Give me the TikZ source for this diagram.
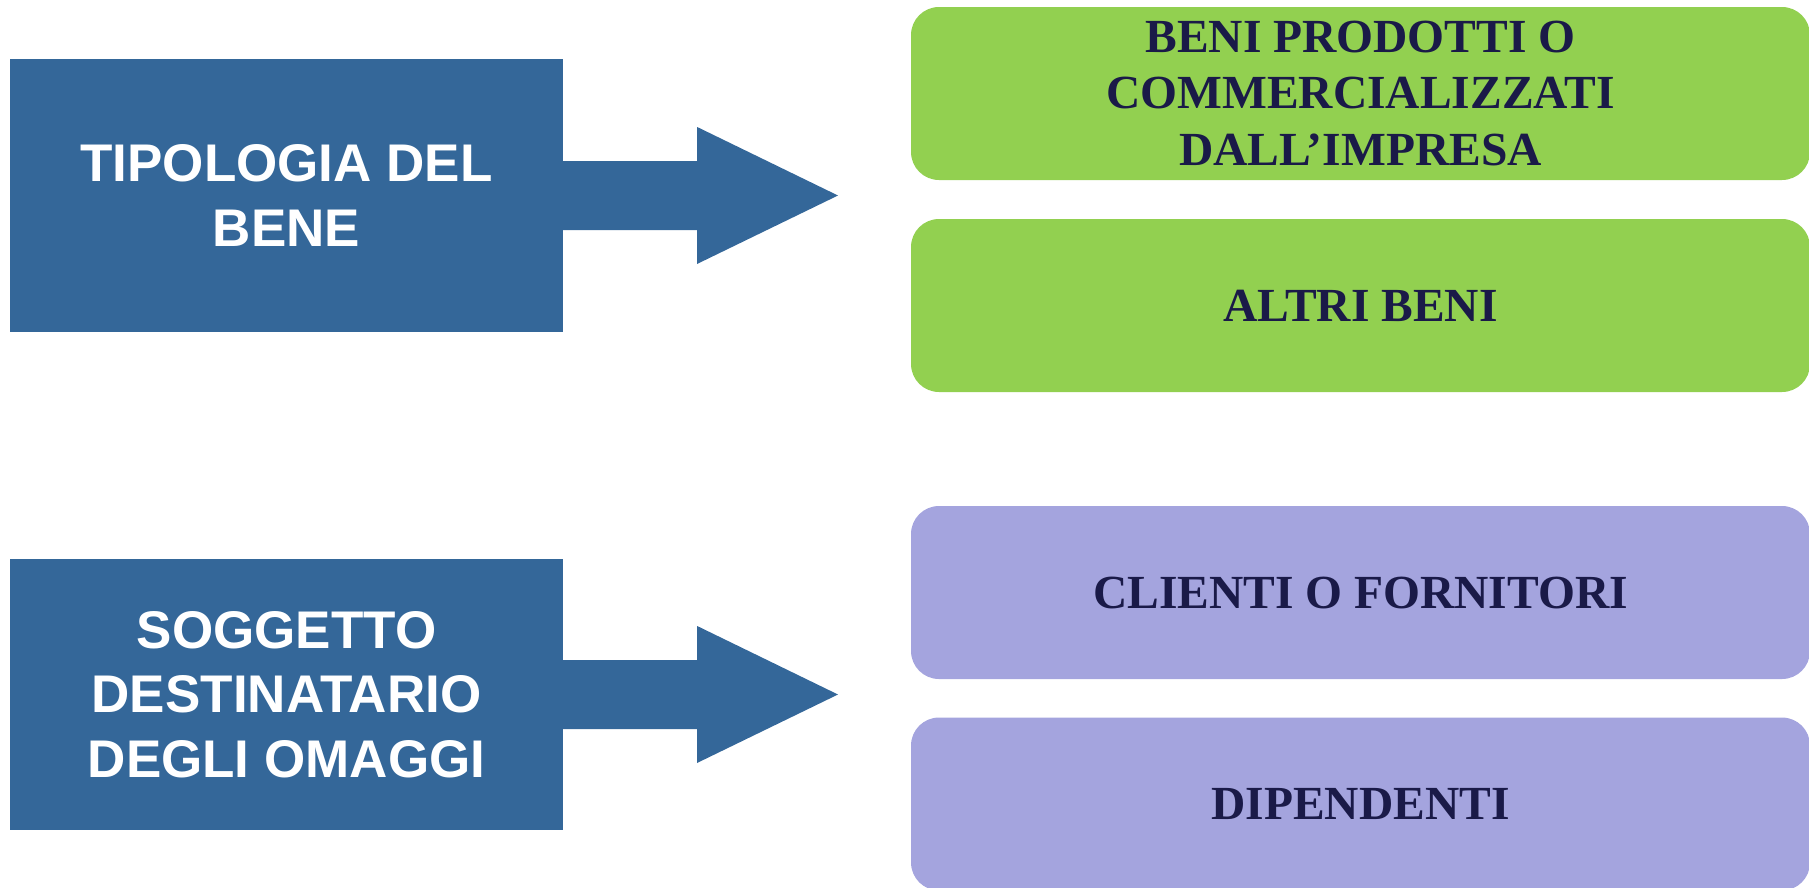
\documentclass[tikz,border=0pt]{standalone}
\usepackage{fontspec}
\setmainfont{Liberation Serif}
\newfontfamily\arialfont{Liberation Sans}
\definecolor{bluebox}{RGB}{52,103,153}
\definecolor{greenbox}{RGB}{146,208,80}
\definecolor{purplebox}{RGB}{164,164,222}
\definecolor{navytext}{RGB}{26,26,72}
\tikzset{
  leftbox/.style={fill=bluebox, draw=none, inner sep=0pt, minimum width=553pt, text=white, align=center,
    font=\arialfont\bfseries\fontsize{53}{64.5}\selectfont},
  rightbox/.style={draw=none, rounded corners=28pt, inner sep=0pt, minimum width=899pt, minimum height=173pt,
    text=navytext, align=center, font=\bfseries\fontsize{47.5}{56.5}\selectfont},
  arrowshape/.style={fill=bluebox, draw=none}
}
\begin{document}
\begin{tikzpicture}[x=1pt,y=-1pt]
\useasboundingbox (0,0) rectangle (1809,887);
% left boxes
\node[leftbox, minimum height=273pt] (b1) at (286.5,195.5) {TIPOLOGIA DEL\\BENE};
\node[leftbox, minimum height=271pt] (b2) at (286.5,694.5) {SOGGETTO\\DESTINATARIO\\DEGLI OMAGGI};
% arrow tips
\coordinate (t1) at (838,195.5);
\coordinate (t2) at (838,694.5);
\fill[arrowshape] ([yshift=34.5pt]b1.east) -- ++(134,0) -- ++(0,-34) -- (t1) -- ++(-141,68.5) -- ++(0,-34) -- ([yshift=-34.5pt]b1.east) -- cycle;
\fill[arrowshape] ([yshift=34.5pt]b2.east) -- ++(134,0) -- ++(0,-34) -- (t2) -- ++(-141,68.5) -- ++(0,-34) -- ([yshift=-34.5pt]b2.east) -- cycle;
% right boxes
\node[rightbox, fill=greenbox] (g1) at (1360.5,93.5) {BENI PRODOTTI O\\COMMERCIALIZZATI\\DALL’IMPRESA};
\node[rightbox, fill=greenbox] (g2) at (1360.5,305.5) {ALTRI BENI};
\node[rightbox, fill=purplebox] (p1) at (1360.5,592.5) {CLIENTI O FORNITORI};
\node[rightbox, fill=purplebox] (p2) at (1360.5,804) {DIPENDENTI};
\end{tikzpicture}
\end{document}
